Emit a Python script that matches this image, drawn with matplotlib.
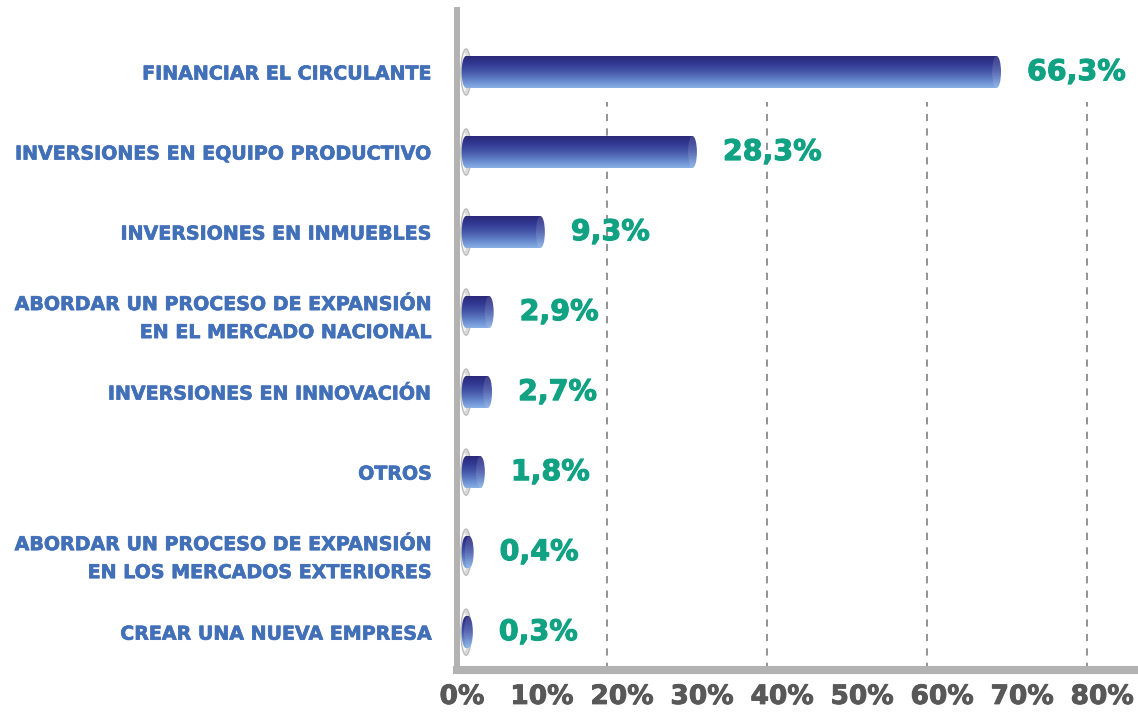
import matplotlib
matplotlib.use("Agg")
import matplotlib.pyplot as plt
import matplotlib.patheffects as pe
import matplotlib.transforms as mtransforms
import numpy as np
from matplotlib.colors import LinearSegmentedColormap
from matplotlib.patches import Ellipse, Rectangle

categories = [
    "FINANCIAR EL CIRCULANTE",
    "INVERSIONES EN EQUIPO PRODUCTIVO",
    "INVERSIONES EN INMUEBLES",
    "ABORDAR UN PROCESO DE EXPANSIÓN\nEN EL MERCADO NACIONAL",
    "INVERSIONES EN INNOVACIÓN",
    "OTROS",
    "ABORDAR UN PROCESO DE EXPANSIÓN\nEN LOS MERCADOS EXTERIORES",
    "CREAR UNA NUEVA EMPRESA",
]
values = [66.3, 28.3, 9.3, 2.9, 2.7, 1.8, 0.4, 0.3]
value_labels = ["66,3%", "28,3%", "9,3%", "2,9%", "2,7%", "1,8%", "0,4%", "0,3%"]
x_ticks = [0, 10, 20, 30, 40, 50, 60, 70, 80]
grid_ticks = [20, 40, 60, 80]

LABEL_BLUE = "#4270b8"
VALUE_GREEN = "#10a283"
AXIS_GRAY = "#b2b2b2"
TICK_GRAY = "#585858"

bar_cmap = LinearSegmentedColormap.from_list(
    "cyl", ["#2a2878", "#313890", "#4556a8", "#6282c8", "#88b0e6"])
grad = np.linspace(0, 1, 64).reshape(-1, 1)


def heavy(color, w):
    return [pe.withStroke(linewidth=w, foreground=color)]


fig = plt.figure(figsize=(11.38, 7.14), dpi=100)
ax = fig.add_axes([0.4016, 0.0616, 0.5958, 0.9244])

ypos = np.arange(len(values))
bar_h = 0.4
cap_w = 1.1
start = 0.5

# dashed grid, shifted left like the 3D depth of the original
grid_tr = mtransforms.offset_copy(ax.get_xaxis_transform(), fig=fig,
                                  x=-15, y=0, units="dots")
for xv in grid_ticks:
    ax.plot([xv, xv], [0, 0.86], transform=grid_tr, color="#8a8a8a",
            lw=1.3, dashes=(4, 4), zorder=1)

for y, v in zip(ypos, values):
    # grey base disc
    ax.add_patch(Ellipse((start, y), 1.3, bar_h * 1.45, facecolor="#d8d8d8",
                         edgecolor="#b8b8b8", lw=0.8, zorder=2))
    ax.add_patch(Ellipse((start - 0.15, y), 0.7, bar_h * 1.2,
                         facecolor="#f8f8f8", edgecolor="none", zorder=2))
    shapes = [Rectangle((start, y - bar_h / 2), v, bar_h),
              Ellipse((start, y), cap_w, bar_h),
              Ellipse((start + v, y), cap_w, bar_h)]
    for shp in shapes:
        shp.set_facecolor("none")
        shp.set_edgecolor("none")
        ax.add_patch(shp)
        im = ax.imshow(grad, cmap=bar_cmap, aspect="auto",
                       extent=(-1, v + 2, y + bar_h / 2, y - bar_h / 2),
                       origin="upper", zorder=3, interpolation="bilinear")
        im.set_clip_path(shp)
    ax.add_patch(Ellipse((start + v, y), cap_w, bar_h, facecolor="white",
                         alpha=0.12, edgecolor="none", zorder=4))

for y, v, lab in zip(ypos, values, value_labels):
    ax.annotate(lab, (start + v + cap_w / 2, y), xytext=(26, 0),
                textcoords="offset pixels", ha="left", va="center",
                fontsize=20.5, fontweight="bold", color=VALUE_GREEN,
                path_effects=heavy(VALUE_GREEN, 0.8))

ax.set_xlim(-0.625, 84.1)
ax.set_ylim(7.473, -0.775)

ax.set_yticks(ypos)
ax.set_yticklabels(categories, fontsize=13.7, fontweight="bold",
                   color=LABEL_BLUE, linespacing=1.6)
for t in ax.get_yticklabels():
    t.set_path_effects(heavy(LABEL_BLUE, 0.5))
ax.set_xticks(x_ticks)
ax.set_xticklabels([f"{t}%" for t in x_ticks], fontsize=19,
                   fontweight="bold", color=TICK_GRAY)
for t in ax.get_xticklabels():
    t.set_path_effects(heavy(TICK_GRAY, 0.7))
ax.tick_params(axis="y", length=0, pad=18)
ax.tick_params(axis="x", length=0, pad=10)

for side in ["top", "right"]:
    ax.spines[side].set_visible(False)
ax.spines["left"].set_color(AXIS_GRAY)
ax.spines["left"].set_linewidth(4.3)
ax.spines["bottom"].set_color(AXIS_GRAY)
ax.spines["bottom"].set_linewidth(5.8)

fig.savefig("out.png", dpi=100)
